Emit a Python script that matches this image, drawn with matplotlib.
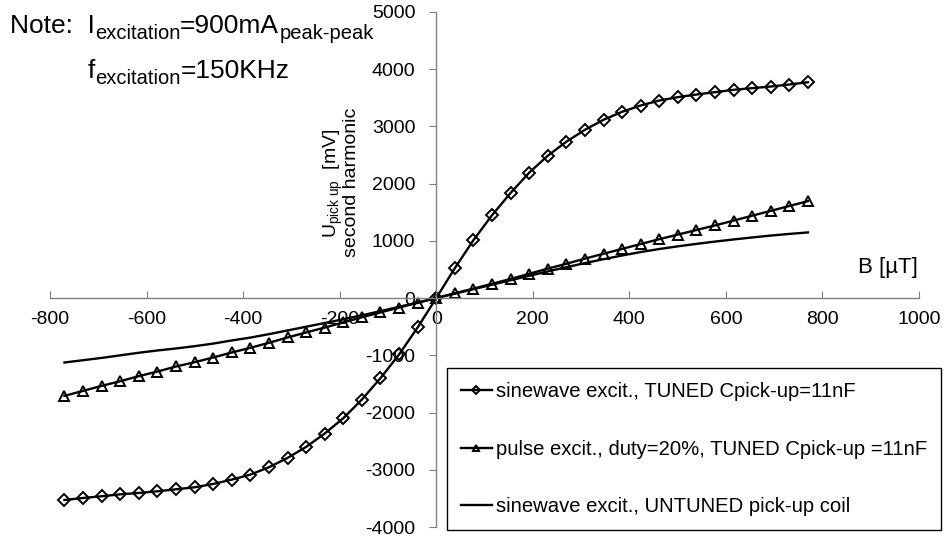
import matplotlib
matplotlib.use("Agg")
import matplotlib.pyplot as plt
import numpy as np

plt.rcParams["font.family"] = ["Liberation Sans", "DejaVu Sans"]
plt.rcParams["mathtext.fontset"] = "custom"
plt.rcParams["mathtext.rm"] = "Liberation Sans"
plt.rcParams["mathtext.it"] = "Liberation Sans:italic"
plt.rcParams["mathtext.bf"] = "Liberation Sans:bold"
plt.rcParams["axes.unicode_minus"] = False

# B field [uT], same grid for all three series
b = np.round(np.arange(-20, 21) * 38.5, 1)

# sinewave excit., TUNED Cpick-up=11nF
tuned_neg = [-3528, -3493, -3463, -3429, -3405, -3376, -3341, -3306, -3248, -3172,
             -3085, -2956, -2793, -2600, -2367, -2099, -1773, -1399, -985, -513]
tuned_pos = [0, 523, 1012, 1448, 1837, 2192, 2488, 2733, 2942, 3116, 3256,
             3366, 3453, 3512, 3558, 3599, 3640, 3669, 3698, 3733, 3773]
tuned = tuned_neg + tuned_pos

# pulse excit., duty=20%, TUNED Cpick-up =11nF
pulse_neg = [-1708, -1621, -1534, -1452, -1364, -1283, -1195, -1120, -1038, -950,
             -869, -781, -688, -600, -515, -425, -335, -250, -165, -82]
pulse_pos = [0, 85, 165, 250, 335, 425, 515, 600, 690, 775, 860,
             945, 1030, 1110, 1190, 1270, 1355, 1440, 1525, 1610, 1695]
pulse = pulse_neg + pulse_pos

# sinewave excit., UNTUNED pick-up coil
untuned_neg = [-1125, -1085, -1045, -1000, -955, -915, -880, -840, -795, -740,
               -690, -630, -565, -500, -435, -370, -300, -228, -152, -76]
untuned_pos = [0, 78, 156, 234, 312, 390, 466, 540, 612, 680, 745,
               805, 858, 905, 948, 988, 1025, 1060, 1093, 1122, 1148]
untuned = untuned_neg + untuned_pos

labels = ["sinewave excit., TUNED Cpick-up=11nF",
          "pulse excit., duty=20%, TUNED Cpick-up =11nF",
          "sinewave excit., UNTUNED pick-up coil"]

W, H = 945, 542
fig = plt.figure(figsize=(W / 100, H / 100), dpi=100)
ax = fig.add_axes([50 / W, 1 - 527 / H, (919 - 50) / W, (527 - 12) / H])

ax.plot(b, tuned, color="black", lw=1.7, marker="D", ms=6.3, mfc="none",
        mec="black", mew=1.4, label=labels[0])
ax.plot(b, pulse, color="black", lw=1.7, marker="^", ms=7.5, mfc="none",
        mec="black", mew=1.4, label=labels[1])
ax.plot(b, untuned, color="black", lw=1.7, label=labels[2])

ax.set_xlim(-800, 1000)
ax.set_ylim(-4000, 5000)
ax.set_xticks(np.arange(-800, 1001, 200))
ax.set_yticks(np.arange(-4000, 5001, 1000))

for side in ["top", "right"]:
    ax.spines[side].set_visible(False)
for side in ["left", "bottom"]:
    ax.spines[side].set_position(("data", 0))
    ax.spines[side].set_color("#808080")
    ax.spines[side].set_linewidth(1.0)
ax.tick_params(axis="x", direction="in", length=5, color="#808080",
               labelsize=14, pad=9)
ax.tick_params(axis="y", direction="out", length=5, color="#808080",
               labelsize=14, pad=10)

fig.text(888 / W, 1 - 268 / H, "B [\u00b5T]", fontsize=16, ha="center", va="center")
fig.text(333 / W, 1 - 183 / H, r"U$_{\mathrm{pick\ up}}$  [mV]", fontsize=14,
         rotation=90, ha="center", va="center")
fig.text(352 / W, 1 - 182 / H, "second harmonic", fontsize=14,
         rotation=90, ha="center", va="center")

# note text with real subscripts, drawn piece by piece
renderer = fig.canvas.get_renderer()


def text_run(x, y, pieces):
    for s, size, dy in pieces:
        t = fig.text(x / W, 1 - (y + dy) / H, s, fontsize=size, va="baseline")
        x = t.get_window_extent(renderer).x1


text_run(10, 33, [("Note:  I", 19, 0), ("excitation", 14.5, 6),
                  ("=900mA", 19, 0), ("peak-peak", 14.5, 6)])
text_run(88, 78, [("f", 19, 0), ("excitation", 14.5, 6),
                  ("=150KHz", 19, 0)])

leg = ax.legend(loc="upper left", bbox_to_anchor=(447 / W, 1 - 368 / H),
                bbox_transform=fig.transFigure, fontsize=14.6, frameon=True,
                fancybox=False, edgecolor="black", framealpha=1,
                handlelength=1.5, handletextpad=0.2, labelspacing=1.9,
                borderpad=0.7, borderaxespad=0)
leg.get_frame().set_linewidth(1.0)
for h in leg.legend_handles:
    h.set_markersize(4.5)

fig.savefig("out.png", dpi=100)
